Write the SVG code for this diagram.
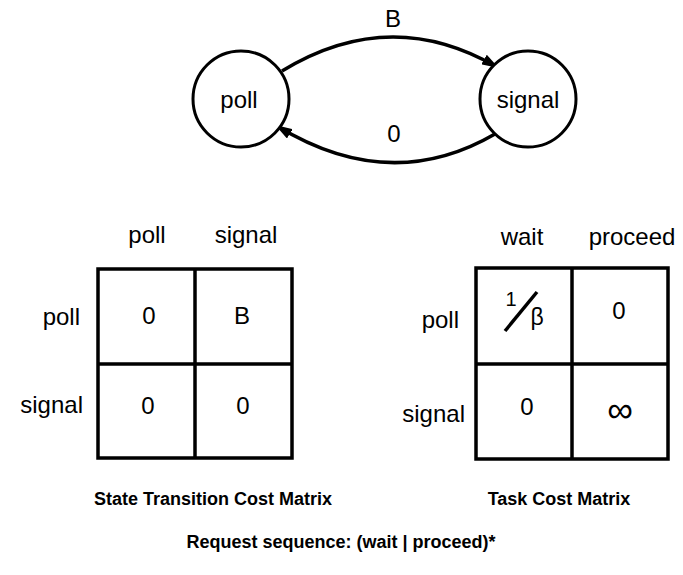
<svg xmlns="http://www.w3.org/2000/svg" width="683" height="575" viewBox="0 0 683 575">
<style>
  text { font-family: "Liberation Sans", Arial, Helvetica, sans-serif; fill: #000; }
  .lbl { font-size: 24px; }
  .val { font-size: 24px; }
  .cap { font-size: 18px; font-weight: bold; }
  .node { fill: #fff; stroke: #000; stroke-width: 3; }
  .edge { fill: none; stroke: #000; stroke-width: 3.5; }
  .grid { fill: none; stroke: #000; stroke-width: 3.5; }
</style>
<defs>
  <marker id="arrow" markerWidth="17" markerHeight="11" refX="15" refY="5.5" orient="auto" markerUnits="userSpaceOnUse">
    <path d="M0,0 L17,5.5 L0,11 Z" fill="#000"/>
  </marker>
</defs>
<rect width="683" height="575" fill="#fff"/>

<g id="connectors">
  <path class="edge" d="M282,71 Q390,5 497,67" marker-end="url(#arrow)"/>
  <text class="lbl" x="393" y="27" text-anchor="middle">B</text>
  <path class="edge" d="M495,134 Q390,195 277,126" marker-end="url(#arrow)"/>
  <text class="lbl" x="394" y="142" text-anchor="middle">0</text>
</g>

<g id="node-poll">
  <circle class="node" cx="241" cy="99" r="48"/>
  <text class="lbl" x="239" y="108" text-anchor="middle">poll</text>
</g>
<g id="node-signal">
  <circle class="node" cx="528" cy="99" r="48"/>
  <text class="lbl" x="528" y="108" text-anchor="middle">signal</text>
</g>

<g id="state-transition-matrix">
  <text class="lbl" x="147" y="243" text-anchor="middle">poll</text>
  <text class="lbl" x="246" y="243" text-anchor="middle">signal</text>
  <text class="lbl" x="80" y="325" text-anchor="end">poll</text>
  <text class="lbl" x="83" y="413" text-anchor="end">signal</text>
  <rect class="grid" x="98" y="269" width="194" height="189"/>
  <line class="grid" x1="195" y1="269" x2="195" y2="458"/>
  <line class="grid" x1="98" y1="364" x2="292" y2="364"/>
  <text class="val" x="149" y="324" text-anchor="middle">0</text>
  <text class="val" x="242" y="324" text-anchor="middle">B</text>
  <text class="val" x="148" y="414" text-anchor="middle">0</text>
  <text class="val" x="243" y="414" text-anchor="middle">0</text>
  <text class="cap" x="332" y="505" text-anchor="end">State Transition Cost Matrix</text>
</g>

<g id="task-cost-matrix">
  <text class="lbl" x="522" y="245" text-anchor="middle">wait</text>
  <text class="lbl" x="632" y="245" text-anchor="middle">proceed</text>
  <text class="lbl" x="459" y="328" text-anchor="end">poll</text>
  <text class="lbl" x="465" y="422" text-anchor="end">signal</text>
  <rect class="grid" x="476" y="268" width="192" height="191"/>
  <line class="grid" x1="572" y1="268" x2="572" y2="459"/>
  <line class="grid" x1="476" y1="364" x2="668" y2="364"/>
  <text x="511" y="306" font-size="20" text-anchor="middle">1</text>
  <line x1="505" y1="331" x2="537" y2="292" stroke="#000" stroke-width="3.5"/>
  <text x="537" y="325" font-size="23" text-anchor="middle">β</text>
  <text class="val" x="619" y="319" text-anchor="middle">0</text>
  <text class="val" x="527" y="415" text-anchor="middle">0</text>
  <text x="620" y="422" font-size="36" text-anchor="middle">∞</text>
  <text class="cap" x="559" y="505" text-anchor="middle">Task Cost Matrix</text>
</g>

<text class="cap" x="341" y="548" text-anchor="middle">Request sequence:  (wait | proceed)*</text>
</svg>
